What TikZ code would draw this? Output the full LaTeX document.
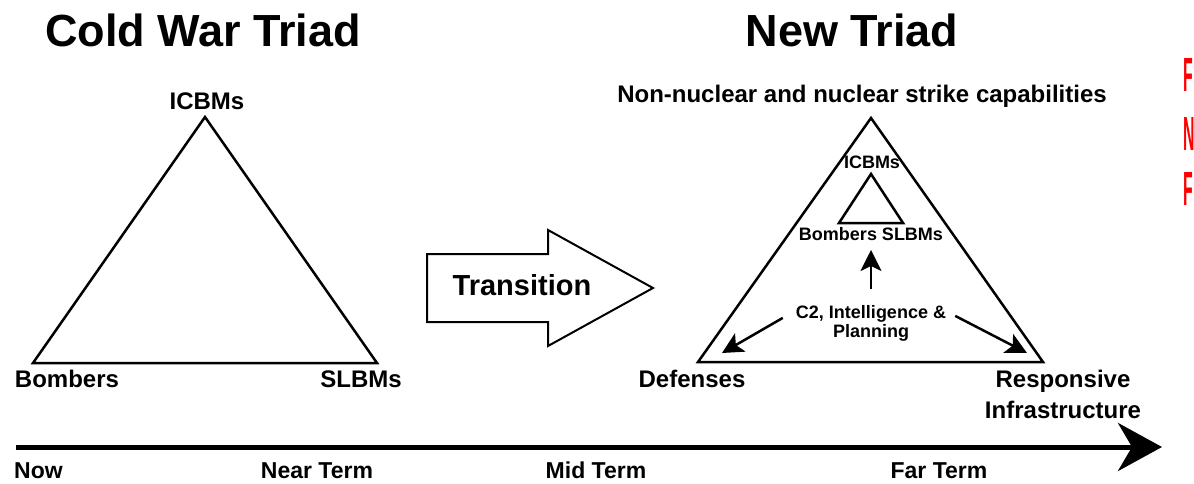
\documentclass[tikz,border=0pt]{standalone}
\usepackage{fontspec}
\setmainfont{Liberation Sans}
\usetikzlibrary{arrows.meta}
\tikzset{
	heading/.style={font=\fontsize{45}{48}\selectfont\bfseries, inner sep=0, anchor=base},
	vertex/.style={font=\fontsize{24}{31}\selectfont\bfseries, inner sep=0, anchor=base, align=center},
	smalltext/.style={font=\fontsize{18}{19}\selectfont\bfseries, inner sep=0, anchor=base, align=center},
	termtext/.style={font=\fontsize{23}{26}\selectfont\bfseries, inner sep=0, anchor=base},
	redtext/.style={font=\fontsize{48}{52}\selectfont\bfseries, text=red, inner sep=0, anchor=base west},
	triline/.style={line width=2.5pt, line join=miter},
	pointer/.style={line width=2.5pt, -{Stealth[length=21pt,width=21pt,inset=5pt]}},
	timeline/.style={line width=5pt, -{Stealth[length=44pt,width=48pt,inset=14pt]}}
}
\begin{document}
\begin{tikzpicture}[x=1pt,y=-1pt]
	\clip (0,0) rectangle (1194,484);
	% headings
	\node[heading] (oldhead) at (203,47) {Cold War Triad};
	\node[heading] (newhead) at (852,47) {New Triad};
	% cold war triad
	\coordinate (oldtop) at (205,117);
	\coordinate (oldleft) at (33,363);
	\coordinate (oldright) at (377,363);
	\draw[triline] (oldtop) -- (oldleft) -- (oldright) -- cycle;
	\node[vertex] (icbm) at (207,110) {ICBMs};
	\node[vertex] (bomb) at (67,387) {Bombers};
	\node[vertex] (slbm) at (361,387) {SLBMs};
	% transition
	\draw[line width=2pt, line join=miter] (427,254) -- (548,254) -- (548,230) -- (653,288) -- (548,346) -- (548,322) -- (427,322) -- cycle;
	\node[font=\fontsize{29}{32}\selectfont\bfseries, inner sep=0, anchor=base] (trans) at (522,295) {Transition};
	% new triad
	\coordinate (newtop) at (871,118);
	\coordinate (newleft) at (698,362);
	\coordinate (newright) at (1043,362);
	\draw[triline] (newtop) -- (newleft) -- (newright) -- cycle;
	\node[vertex] (strike) at (862,103) {Non-nuclear and nuclear strike capabilities};
	\node[vertex] (defense) at (692,387) {Defenses};
	\node[vertex] (infra) at (1063,418) {Responsive\\Infrastructure};
	% inner triad
	\coordinate (intop) at (871,174);
	\coordinate (inleft) at (839,223);
	\coordinate (inright) at (903,223);
	\draw[triline] (intop) -- (inleft) -- (inright) -- cycle;
	\node[smalltext] (inicbm) at (872,168) {ICBMs};
	\node[smalltext] (bs) at (871,240) {Bombers SLBMs};
	\node[smalltext] (c2) at (871,337) {C2, Intelligence \&\\Planning};
	\coordinate (deftip) at (722,353);
	\coordinate (restip) at (1027,353);
	\draw[pointer] ([shift={(0,-16)}]c2.north) -- ([shift={(0,10)}]bs.base);
	\draw[pointer] ([shift={(-13,-5)}]c2.west) -- (deftip);
	\draw[pointer] ([shift={(9,-7)}]c2.east) -- (restip);
	% time line
	\coordinate (tstart) at (16,447);
	\coordinate (tend) at (1162,447);
	\draw[timeline] (tstart) -- (tend);
	\node[termtext, anchor=base west] (now) at (14,478) {Now};
	\node[termtext] (near) at (317,478) {Near Term};
	\node[termtext] (mid) at (596,478) {Mid Term};
	\node[termtext] (far) at (939,478) {Far Term};
	% red letters at the edge
	\node[redtext] (red1) at (1183,92) {\scalebox{0.33}[1]{F}};
	\node[redtext] (red2) at (1183,150) {\scalebox{0.33}[1]{N}};
	\node[redtext] (red3) at (1183,205) {\scalebox{0.33}[1]{F}};
\end{tikzpicture}
\end{document}
